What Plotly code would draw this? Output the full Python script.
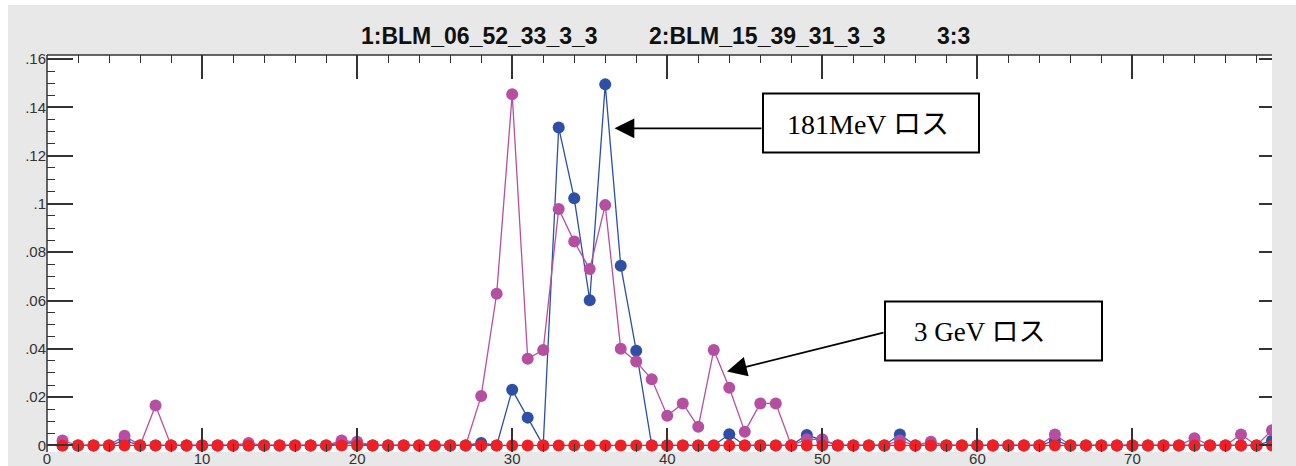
import plotly.graph_objects as go

# ---------------- data ----------------
x_idx = list(range(1, 80))

blm_06_52_33 = [
    0, 0, 0, 0, 0.002, 0, 0, 0, 0, 0,
    0, 0, 0, 0, 0, 0, 0, 0, 0.001, 0.001,
    0, 0, 0, 0, 0, 0, 0, 0.001, 0, 0.023,
    0.0115, 0, 0.1316, 0.1023, 0.0601, 0.1495, 0.0744, 0.0392, 0, 0,
    0, 0, 0, 0.0046, 0, 0, 0, 0, 0.0043, 0.002,
    0, 0, 0, 0, 0.0045, 0, 0, 0, 0, 0,
    0, 0, 0, 0, 0.002, 0, 0, 0, 0, 0,
    0, 0, 0, 0, 0, 0, 0, 0, 0.002,
]

blm_15_39_31 = [
    0.002, 0, 0, 0, 0.004, 0, 0.0165, 0, 0, 0,
    0, 0, 0.001, 0, 0, 0, 0, 0, 0.002, 0.0015,
    0, 0, 0, 0, 0, 0, 0, 0.0205, 0.0628, 0.1454,
    0.0359, 0.0395, 0.0979, 0.0844, 0.073, 0.0995, 0.040, 0.0347, 0.0274, 0.0123,
    0.0174, 0.0077, 0.0395, 0.0239, 0.0057, 0.0174, 0.0174, 0, 0.0025, 0.0025,
    0, 0, 0, 0, 0.002, 0, 0.0015, 0, 0, 0,
    0, 0, 0, 0, 0.0045, 0, 0, 0, 0, 0,
    0, 0, 0, 0.003, 0, 0, 0.0045, 0, 0.0063,
]

ch3 = [
    0, 0, 0, 0, 0, 0, 0, 0, 0, 0,
    0, 0, 0, 0, 0, 0, 0, 0, 0, 0,
    0, 0, 0, 0, 0, 0, 0, 0, 0, 0,
    0, 0, 0, 0, 0, 0, 0, 0, 0, 0,
    0, 0, 0, 0, 0, 0, 0, 0, 0, 0,
    0, 0, 0, 0, 0, 0, 0, 0, 0, 0,
    0, 0, 0, 0, 0, 0, 0, 0, 0, 0,
    0, 0, 0, 0, 0, 0, 0, 0, 0,
]

series_names = ["1:BLM_06_52_33_3_3", "2:BLM_15_39_31_3_3", "3:3"]
y_tickvals = [0, 0.02, 0.04, 0.06, 0.08, 0.1, 0.12, 0.14, 0.16]
y_ticktext = ["0", ".02", ".04", ".06", ".08", ".1", ".12", ".14", ".16"]
x_tickvals = [0, 10, 20, 30, 40, 50, 60, 70]
x_ticktext = ["0", "10", "20", "30", "40", "50", "60", "70"]
label_181 = "181MeV ロス"
label_3g = "3 GeV ロス"

# ---------------- layout geometry ----------------
W, H = 1296, 466
ML, MR, MT, MB = 47, 24, 55, 14
PW, PH = W - ML - MR, H - MT - MB
Y_RANGE = [-0.00273, 0.16166]


def px(xp):
    return (xp - ML) / PW


def py(yp):
    return (H - MB - yp) / PH


BLUE = "#2d4fa6"
MAG = "#b64fa1"
RED = "#ee2024"
INK = "#333333"

fig = go.Figure()
fig.add_trace(go.Scatter(x=x_idx, y=blm_06_52_33, mode="lines+markers", name=series_names[0],
                         line=dict(color=BLUE, width=1.3), marker=dict(color=BLUE, size=12)))
fig.add_trace(go.Scatter(x=x_idx, y=blm_15_39_31, mode="lines+markers", name=series_names[1],
                         line=dict(color=MAG, width=1.3), marker=dict(color=MAG, size=12)))
fig.add_trace(go.Scatter(x=x_idx, y=ch3, mode="lines+markers", name=series_names[2],
                         line=dict(color=RED, width=1.3), marker=dict(color=RED, size=12)))
# empty helper trace so the right-hand tick axis is drawn
fig.add_trace(go.Scatter(x=[None], y=[None], yaxis="y2", mode="markers",
                         showlegend=False, hoverinfo="skip"))

axis_common = dict(
    showgrid=False, zeroline=False, showline=False, automargin=False,
    ticks="inside", tickcolor=INK, tickwidth=1.5,
)

fig.update_layout(
    xaxis=dict(
        range=[0, 79], tickmode="array", tickvals=x_tickvals, ticktext=x_ticktext,
        ticklen=24, ticklabelstandoff=-4, mirror="ticks",
        tickfont=dict(family="Liberation Sans, Arial, sans-serif", size=15, color=INK),
        minor=dict(ticks="inside", ticklen=8, tickcolor=INK, tickwidth=1.2,
                   tickmode="linear", tick0=0, dtick=2),
        **axis_common,
    ),
    yaxis=dict(
        range=Y_RANGE, tickmode="array", tickvals=y_tickvals, ticktext=y_ticktext,
        ticklen=26,
        tickfont=dict(family="Liberation Sans, Arial, sans-serif", size=15, color=INK),
        minor=dict(ticks="inside", ticklen=8, tickcolor=INK, tickwidth=1.2,
                   tickmode="linear", tick0=0, dtick=0.005),
        **axis_common,
    ),
    yaxis2=dict(
        range=Y_RANGE, tickmode="array", tickvals=y_tickvals, showticklabels=False,
        overlaying="y", side="right", anchor="x", ticklen=13,
        **axis_common,
    ),
)

shapes = [
    # white outer strips
    dict(type="rect", xref="paper", yref="paper", x0=px(0), x1=px(W), y0=py(5), y1=py(0),
         fillcolor="white", line=dict(width=0), layer="below"),
    dict(type="rect", xref="paper", yref="paper", x0=px(0), x1=px(8), y0=py(H), y1=py(0),
         fillcolor="white", line=dict(width=0), layer="below"),
    # frame lines (top & left)
    dict(type="line", xref="paper", yref="paper", x0=0, x1=1, y0=1, y1=1,
         line=dict(color=INK, width=1.5)),
    dict(type="line", xref="paper", yref="paper", x0=0, x1=0, y0=0, y1=1,
         line=dict(color=INK, width=1.5)),
    # label boxes
    dict(type="rect", xref="paper", yref="paper", x0=px(763), x1=px(979), y0=py(152.5), y1=py(93.5),
         fillcolor="white", line=dict(color="black", width=2)),
    dict(type="rect", xref="paper", yref="paper", x0=px(885), x1=px(1102), y0=py(360.5), y1=py(301.5),
         fillcolor="white", line=dict(color="black", width=2)),
]

title_font = dict(family="Liberation Sans, Arial, sans-serif", size=23, color="#111111")
annotations = [
    dict(xref="paper", yref="paper", x=px(479.5), y=py(36), text="<b>%s</b>" % series_names[0],
         showarrow=False, font=title_font, xanchor="center", yanchor="middle"),
    dict(xref="paper", yref="paper", x=px(767.5), y=py(36), text="<b>%s</b>" % series_names[1],
         showarrow=False, font=title_font, xanchor="center", yanchor="middle"),
    dict(xref="paper", yref="paper", x=px(953.5), y=py(36), text="<b>%s</b>" % series_names[2],
         showarrow=False, font=title_font, xanchor="center", yanchor="middle"),
    dict(xref="paper", yref="paper", x=px(868), y=py(124), text=label_181, showarrow=False,
         font=dict(family="Liberation Serif, Noto Sans CJK JP, serif", size=28, color="black"),
         xanchor="center", yanchor="middle"),
    dict(xref="paper", yref="paper", x=px(980), y=py(332), text=label_3g, showarrow=False,
         font=dict(family="Liberation Serif, Noto Sans CJK JP, serif", size=27, color="black"),
         xanchor="center", yanchor="middle"),
    # arrows
    dict(xref="paper", yref="paper", x=px(614.5), y=py(128.3), axref="pixel", ayref="pixel",
         ax=763 - 614.5, ay=0, text="", showarrow=True, arrowhead=2, arrowsize=2.2,
         arrowwidth=1.8, arrowcolor="black", standoff=0, startstandoff=0),
    dict(xref="paper", yref="paper", x=px(727), y=py(371.5), axref="pixel", ayref="pixel",
         ax=885 - 727, ay=332.3 - 371.5, text="", showarrow=True, arrowhead=2, arrowsize=2.2,
         arrowwidth=1.8, arrowcolor="black", standoff=0, startstandoff=0),
]

fig.update_layout(
    width=W, height=H,
    margin=dict(l=ML, r=MR, t=MT, b=MB, pad=0),
    paper_bgcolor="#e8e8e8", plot_bgcolor="white",
    showlegend=False,
    shapes=shapes, annotations=annotations,
)

fig.write_html("out.html")
